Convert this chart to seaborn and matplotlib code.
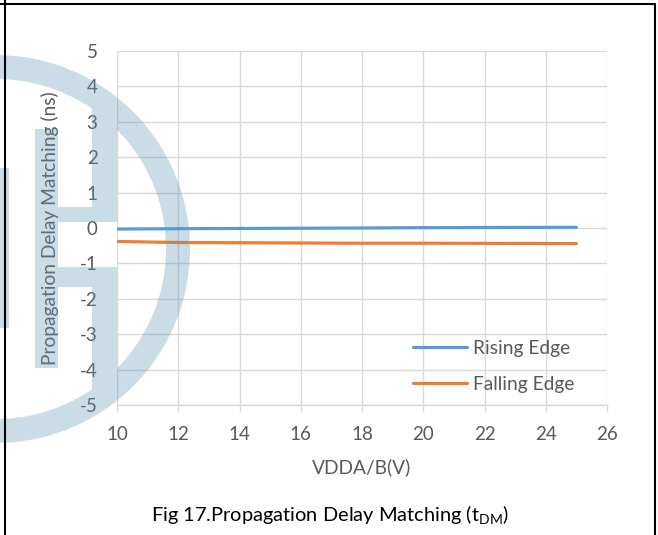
import numpy as np
import pandas as pd
import matplotlib
matplotlib.use("Agg")
import matplotlib.pyplot as plt
import matplotlib.patches as mpatches
from matplotlib.transforms import IdentityTransform
from matplotlib.lines import Line2D
import seaborn as sns

# ---- data ----
vdd = [10, 12, 15, 18, 20, 25]
rising_edge = [-0.03, -0.02, -0.01, 0.0, 0.01, 0.02]
falling_edge = [-0.38, -0.41, -0.42, -0.43, -0.43, -0.44]
series_names = ["Rising Edge", "Falling Edge"]
x_ticks = [10, 12, 14, 16, 18, 20, 22, 24, 26]
y_ticks = [-5, -4, -3, -2, -1, 0, 1, 2, 3, 4, 5]

df = pd.DataFrame({
    "VDD": vdd * 2,
    "delay": rising_edge + falling_edge,
    "series": [series_names[0]] * len(vdd) + [series_names[1]] * len(vdd),
})

sns.set_theme(style="white")
plt.rcParams["font.family"] = ["Lato", "DejaVu Sans"]
plt.rcParams["mathtext.fontset"] = "custom"
plt.rcParams["mathtext.rm"] = "Lato"
plt.rcParams["axes.unicode_minus"] = False

W, H = 658, 535
fig = plt.figure(figsize=(W / 100, H / 100), dpi=100)
ax = fig.add_axes([117 / W, (H - 405) / H, (607 - 117) / W, (405 - 51) / H])

palette = {"Rising Edge": "#5b9bd5", "Falling Edge": "#ed7d31"}
sns.lineplot(data=df, x="VDD", y="delay", hue="series", palette=palette,
             linewidth=2.3, ax=ax, legend=False, zorder=3)

FS = 13.8
ax.set_xlim(10, 26)
ax.set_ylim(-5, 5)
ax.set_xticks(x_ticks)
ax.set_yticks(y_ticks)
ax.set_xticklabels([str(t) for t in x_ticks])
ax.set_yticklabels([str(t) for t in y_ticks])
ax.grid(True, color="#d9d9d9", linewidth=1.0)
for s in ["left", "top", "right"]:
    ax.spines[s].set_visible(False)
ax.spines["bottom"].set_color("#d9d9d9")
ax.spines["bottom"].set_linewidth(1.0)
ax.tick_params(axis="x", direction="out", length=4, width=1.0, color="#d9d9d9",
               pad=11, labelsize=13.5, labelcolor="#595959", bottom=True)
ax.tick_params(axis="y", length=0, pad=14, labelsize=13.5, labelcolor="#595959")

ax.set_xlabel("VDDA/B(V)", fontsize=FS, color="#595959", labelpad=11)
ax.set_ylabel("Propagation Delay Matching (ns)", fontsize=FS, color="#595959", labelpad=15)

handles = [Line2D([], [], color=palette[n], linewidth=2.3) for n in series_names]
ax.legend(handles, series_names, loc="upper left", bbox_to_anchor=(0.605, 0.185),
          frameon=False, fontsize=FS, handlelength=2.8, handletextpad=0.3,
          labelspacing=1.0, borderpad=0, borderaxespad=0,
          labelcolor="#595959")

fig.text(330 / W, (H - 515) / H,
         r"Fig 17.Propagation Delay Matching (t$_{\mathrm{DM}}$)",
         ha="center", va="center", fontsize=14.4, color="black")

# ---- watermark (pixel coords, origin bottom-left) ----
wm = dict(facecolor="#5f98b5", edgecolor="none", alpha=0.33,
          transform=IdentityTransform(), zorder=10)
def Y(y):
    return H - y
CX, CY, RO, RI = -4, 249, 194, 170
fig.patches.append(mpatches.Wedge((CX, Y(CY)), RO, -90, 90, width=RO - RI, **wm))
fig.patches.append(mpatches.Rectangle((0, Y(328)), 9, 160, **wm))
fig.patches.append(mpatches.Rectangle((35, Y(368)), 23, 239, **wm))
fig.patches.append(mpatches.Rectangle((58, Y(222)), 34, 15, **wm))
fig.patches.append(mpatches.Rectangle((58, Y(287)), 34, 20, **wm))

def stroke(x0, x1, yedge, upper):
    xs = np.linspace(x0, x1, 20)
    dy = np.sqrt(RI ** 2 - (xs - CX) ** 2)
    if upper:
        arc = CY - dy
    else:
        arc = CY + dy
    pts = [(x, Y(y)) for x, y in zip(xs, arc)]
    pts += [(x1, Y(yedge)), (x0, Y(yedge))]
    return mpatches.Polygon(pts, closed=True, **wm)

fig.patches.append(stroke(92, 117, 222, True))
fig.patches.append(stroke(92, 117, 267, False))

# ---- table borders ----
bl = dict(color="black", linewidth=1.5, transform=IdentityTransform(), zorder=20)
fig.lines.append(Line2D([0, 655], [Y(4), Y(4)], **bl))
fig.lines.append(Line2D([5, 5], [0, H], **bl))
fig.lines.append(Line2D([655, 655], [0, Y(4)], **bl))

fig.savefig("out.png", dpi=100)
